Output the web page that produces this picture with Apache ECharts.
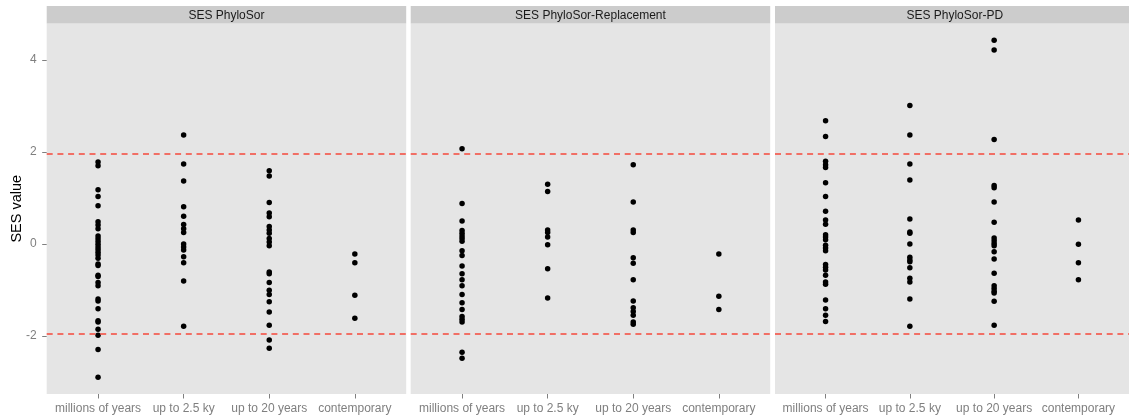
<!DOCTYPE html>
<html>
<head>
<meta charset="utf-8">
<title>SES values by time scale</title>
<script src="https://cdn.jsdelivr.net/npm/echarts@6/dist/echarts.min.js"></script>
<style>
  html, body { margin: 0; padding: 0; background: #ffffff; }
  #chart { width: 1129px; height: 420px; }
</style>
</head>
<body>
<div id="chart"></div>
<script>
// Time-scale categories shared by every facet
const categories = ['millions of years', 'up to 2.5 ky', 'up to 20 years', 'contemporary'];

// Facet titles
const panelTitles = ['SES PhyloSor', 'SES PhyloSor-Replacement', 'SES PhyloSor-PD'];

// SES PhyloSor values, one list per category
const sesPhyloSor = [
  [1.78, 1.70, 1.18, 1.03, 0.83, 0.48, 0.41, 0.33, 0.17, 0.11, 0.05, -0.01, -0.07, -0.12, -0.18, -0.24,
   -0.31, -0.44, -0.47, -0.68, -0.71, -0.84, -0.91, -1.20, -1.24, -1.41, -1.67, -1.70, -1.86, -1.99, -2.30, -2.90],
  [2.37, 1.74, 1.37, 0.81, 0.60, 0.42, 0.33, 0.25, 0.00, -0.07, -0.13, -0.28, -0.41, -0.81, -1.79],
  [1.59, 1.48, 0.90, 0.67, 0.59, 0.38, 0.30, 0.23, 0.12, 0.04, -0.04, -0.61, -0.65, -0.84, -1.01,
   -1.10, -1.26, -1.48, -1.77, -2.09, -2.27],
  [-0.22, -0.41, -1.12, -1.62]
];

// SES PhyloSor-Replacement values
const sesReplacement = [
  [2.07, 0.88, 0.50, 0.29, 0.23, 0.17, 0.12, 0.06, -0.15, -0.25, -0.48, -0.65, -0.78, -0.91, -1.10,
   -1.28, -1.43, -1.58, -1.64, -1.70, -2.36, -2.49],
  [1.30, 1.14, 0.30, 0.25, 0.15, -0.02, -0.54, -1.18],
  [1.72, 0.91, 0.30, 0.25, -0.30, -0.42, -0.78, -1.24, -1.39, -1.47, -1.55, -1.70, -1.75],
  [-0.22, -1.14, -1.43]
];

// SES PhyloSor-PD values
const sesPD = [
  [2.68, 2.34, 1.80, 1.72, 1.66, 1.33, 1.03, 0.71, 0.52, 0.43, 0.20, 0.15, 0.09, -0.03, -0.09, -0.15,
   -0.45, -0.51, -0.57, -0.68, -0.83, -0.88, -1.22, -1.41, -1.55, -1.69],
  [3.01, 2.37, 1.74, 1.39, 0.54, 0.26, 0.23, 0.00, -0.29, -0.35, -0.39, -0.52, -0.75, -0.83, -1.20, -1.79],
  [4.43, 4.22, 2.27, 1.27, 1.22, 0.91, 0.47, 0.13, 0.07, 0.01, -0.04, -0.17, -0.33, -0.64, -0.91,
   -0.97, -1.03, -1.07, -1.25, -1.77],
  [0.52, -0.01, -0.41, -0.78]
];

// Significance thresholds drawn as dashed reference lines
const thresholds = [1.96, -1.96];

// Y-axis tick values
const yTicks = [-2, 0, 2, 4];

const panelData = [sesPhyloSor, sesReplacement, sesPD];

// Facet layout (pixels)
const PANEL_LEFT = [46.7, 410.7, 775];
const PANEL_W = 359.5;
const PANEL_TOP = 23.5;
const PANEL_H = 370.5;
const STRIP_TOP = 6;

// Shared y range: data extent expanded by 5% on each side
const allVals = panelData.flat(2);
const dMin = Math.min(...allVals), dMax = Math.max(...allVals);
const pad = (dMax - dMin) * 0.05;
const yMin = dMin - pad, yMax = dMax + pad;

const FONT = '"Liberation Sans", Arial, Helvetica, sans-serif';
const TICK_COLOR = '#7f7f7f';

const grids = [], xAxes = [], yAxes = [], series = [], graphics = [];

panelData.forEach((panel, p) => {
  grids.push({
    left: PANEL_LEFT[p], top: PANEL_TOP, width: PANEL_W, height: PANEL_H,
    show: true, backgroundColor: '#e5e5e5', borderWidth: 0, containLabel: false
  });

  xAxes.push({
    gridIndex: p, type: 'value', min: -0.6, max: categories.length - 0.4,
    position: 'bottom',
    axisLine: { show: false, onZero: false },
    splitLine: { show: false },
    axisTick: { show: true, length: 4.5, customValues: categories.map((_, i) => i),
                lineStyle: { color: TICK_COLOR, width: 1 } },
    axisLabel: { show: true, customValues: categories.map((_, i) => i), margin: 9,
                 formatter: v => categories[Math.round(v)] || '',
                 color: TICK_COLOR, fontSize: 12, fontFamily: FONT }
  });

  yAxes.push({
    gridIndex: p, type: 'value', min: yMin, max: yMax,
    position: 'left',
    name: p === 0 ? 'SES value' : '',
    nameLocation: 'middle', nameGap: 22, nameRotate: 90, nameMoveOverlap: false,
    nameTextStyle: { color: '#000000', fontSize: 14.5, fontFamily: FONT },
    axisLine: { show: false, onZero: false },
    splitLine: { show: false },
    axisTick: { show: p === 0, length: 4.5, customValues: yTicks,
                lineStyle: { color: TICK_COLOR, width: 1 } },
    axisLabel: { show: p === 0, customValues: yTicks, margin: 10,
                 formatter: v => String(v), verticalAlign: 'middle',
                 color: TICK_COLOR, fontSize: 12, fontFamily: FONT }
  });

  const pts = [];
  panel.forEach((vals, c) => vals.forEach(v => pts.push([c, v])));

  series.push({
    type: 'scatter', xAxisIndex: p, yAxisIndex: p,
    data: pts, symbol: 'circle', symbolSize: 5.5,
    itemStyle: { color: '#000000', opacity: 1 },
    silent: true, z: 3,
    markLine: {
      silent: true, symbol: 'none', animation: false,
      label: { show: false },
      lineStyle: { color: '#f5483b', width: 1.5, type: [6, 4.7], opacity: 1 },
      data: thresholds.map(t => ({ yAxis: t }))
    }
  });

  // facet strip
  graphics.push({
    type: 'rect', silent: true,
    shape: { x: PANEL_LEFT[p], y: STRIP_TOP, width: PANEL_W, height: PANEL_TOP - STRIP_TOP },
    style: { fill: '#cccccc' }
  });
  graphics.push({
    type: 'text', silent: true,
    x: PANEL_LEFT[p] + PANEL_W / 2, y: (STRIP_TOP + PANEL_TOP) / 2 + 0.5,
    style: { text: panelTitles[p], fill: '#1a1a1a', font: '12px ' + FONT,
             textAlign: 'center', textVerticalAlign: 'middle' }
  });
});

const chart = echarts.init(document.getElementById('chart'), null, { renderer: 'canvas' });
chart.setOption({
  animation: false,
  backgroundColor: '#ffffff',
  grid: grids,
  xAxis: xAxes,
  yAxis: yAxes,
  series: series,
  graphic: graphics
});
</script>
</body>
</html>
